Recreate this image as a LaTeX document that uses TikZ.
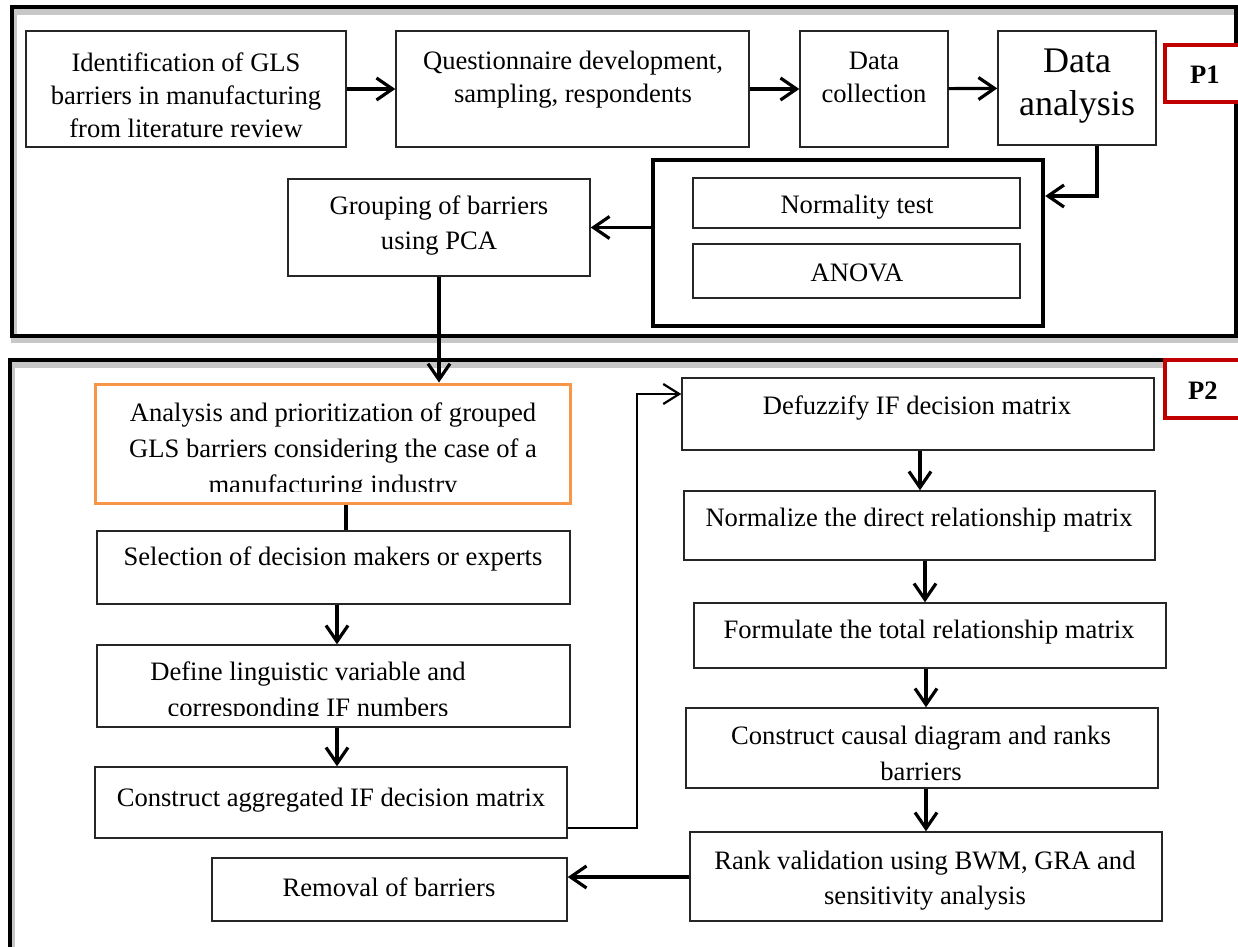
\documentclass[tikz,border=0pt]{standalone}
\usepackage{fontspec}
\setmainfont{Liberation Serif}
\usetikzlibrary{arrows.meta,fit}
\definecolor{redp}{RGB}{192,0,0}
\definecolor{orng}{RGB}{247,150,70}
\begin{document}
\begin{tikzpicture}[x=0.5pt,y=-0.5pt,
  box/.style={draw=black!85, line width=0.7pt, inner sep=0pt},
  thickbox/.style={draw=black, line width=2.2pt, inner sep=0pt},
  redbox/.style={draw=redp, line width=1.8pt, inner sep=0pt, fill=white},
  orbox/.style={draw=orng, line width=1.5pt, inner sep=0pt},
  txt/.style={font=\fontsize{13.3}{17}\selectfont, align=center, inner sep=0pt},
  lbl/.style={font=\bfseries\fontsize{13.3}{16}\selectfont, inner sep=0pt},
  arr/.style={line width=1.6pt, -{Straight Barb[length=8pt,width=11pt,line width=1.6pt]}},
  thinarr/.style={line width=1.1pt, -{Straight Barb[length=8pt,width=10pt,line width=1.1pt]}},
  plain/.style={line width=1.6pt},
  frame/.style={draw=black, line width=2.2pt},
  fshadow/.style={draw=black!22, line width=3pt},
]
\useasboundingbox (0,0) rectangle (1238,947);
\clip (0,0) rectangle (1238,947);

% frames
\draw[fshadow] (14,12) rectangle (1238,340);
\draw[frame] (12,7) rectangle (1236,336);
\draw[fshadow] (12,365) rectangle (1270,990);
\draw[frame] (10,360) rectangle (1270,990);

% P1 boxes
\node[box, fit={(26,31) (346,147)}] (id) {};
\node[txt, font=\fontsize{13.3}{16.5}\selectfont] at (186,95) {Identification of GLS\\barriers in manufacturing\\from literature review};
\node[box, fit={(396,31) (749,147)}] (q) {};
\node[txt, font=\fontsize{13.3}{16.5}\selectfont] at (573,80) {Questionnaire development,\\sampling, respondents};
\node[box, fit={(800,31) (948,147)}] (dc) {};
\node[txt, font=\fontsize{13.3}{16.5}\selectfont] at (874,77) {Data\\collection};
\node[box, fit={(998,31) (1156,145)}] (da) {};
\node[txt, font=\fontsize{18}{21.5}\selectfont] at (1077,86) {Data\\analysis};

\node[redbox, fit={(1165,45) (1260,102)}] (p1) {};
\node[lbl] at (1205,75) {P1};

\node[thickbox, fit={(653,160) (1043,326)}] (pbx) {};
\node[box, fit={(693,178) (1020,228)}] (nt) {};
\node[txt] at (857,207) {Normality test};
\node[box, fit={(693,244) (1020,298)}] (an) {};
\node[txt] at (857,273) {ANOVA};

\node[box, fit={(288,179) (590,276)}] (gr) {};
\node[txt, font=\fontsize{13.3}{17.5}\selectfont] at (439,226) {Grouping of barriers\\using PCA};

% P1 connectors
\draw[arr] (id) -- (q);
\draw[arr] (q) -- (dc);
\draw[arr] (dc) -- (da);
\draw[arr] (da.south -| 1097,0) |- (pbx.east |- 0,196);
\draw[arr] (pbx.west |- gr.east) -- (gr.east);

% P2
\node[redbox, fit={(1165,360) (1260,418)}] (p2) {};
\node[lbl] at (1203,391) {P2};

\node[orbox, fit={(95,384) (570,503)}] (orb) {};
\begin{scope}
\clip (95,384) rectangle (570,491);
\node[txt, font=\fontsize{13.3}{18}\selectfont] at (333,451) {Analysis and prioritization of grouped\\GLS barriers considering the case of a\\manufacturing industry};
\end{scope}

\node[box, fit={(97,531) (570,604)}] (sel) {};
\node[txt] at (333,559) {Selection of decision makers or experts};

\node[box, fit={(97,645) (570,727)}] (def) {};
\begin{scope}
\clip (97,645) rectangle (570,715);
\node[txt, font=\fontsize{13.3}{18}\selectfont] at (308,692) {Define linguistic variable and\\corresponding IF numbers};
\end{scope}

\node[box, fit={(95,767) (567,838)}] (agg) {};
\node[txt] at (331,800) {Construct aggregated IF decision matrix};

\node[box, fit={(212,858) (567,921)}] (rem) {};
\node[txt] at (389,887) {Removal of barriers};

\node[box, fit={(682,378) (1154,450)}] (defz) {};
\node[txt] at (917,408) {Defuzzify IF decision matrix};
\node[box, fit={(684,491) (1155,560)}] (norm) {};
\node[txt] at (919,520) {Normalize the direct relationship matrix};
\node[box, fit={(694,603) (1166,668)}] (form) {};
\node[txt] at (929,632) {Formulate the total relationship matrix};
\node[box, fit={(686,708) (1158,788)}] (caus) {};
\node[txt, font=\fontsize{13.3}{18}\selectfont] at (921,753) {Construct causal diagram and ranks\\barriers};
\node[box, fit={(690,832) (1162,921)}] (rank) {};
\node[txt, font=\fontsize{13.3}{17.5}\selectfont] at (925,881) {Rank validation using BWM, GRA and\\sensitivity analysis};

% P2 connectors
\draw[arr] (gr.south) -- (gr.south |- orb.north);
\draw[plain] (orb.south -| 346,0) -- (sel.north -| 346,0);
\draw[arr] (sel.south -| 337,0) -- (def.north -| 337,0);
\draw[arr] (def.south -| 337,0) -- (agg.north -| 337,0);
\coordinate (bend) at (637,394);
\draw[thinarr] (agg.east |- 0,828) -| (bend) -- (defz.west |- bend);
\draw[arr] (defz.south -| 920,0) -- (norm.north -| 920,0);
\draw[arr] (norm.south -| 925,0) -- (form.north -| 925,0);
\draw[arr] (form.south -| 926,0) -- (caus.north -| 926,0);
\draw[arr] (caus.south -| 926,0) -- (rank.north -| 926,0);
\draw[arr] (rank.west |- 0,877) -- (rem.east |- 0,877);
\end{tikzpicture}
\end{document}
